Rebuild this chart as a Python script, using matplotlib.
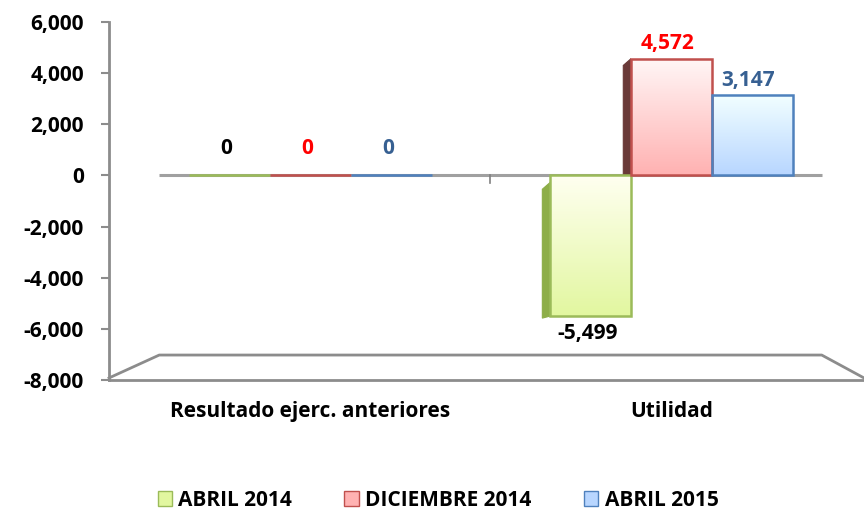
import matplotlib
matplotlib.use("Agg")
import matplotlib.pyplot as plt
import numpy as np
from matplotlib.patches import Rectangle, Polygon, Patch
from matplotlib.colors import LinearSegmentedColormap
from matplotlib.ticker import FuncFormatter

categories = ["Resultado ejerc. anteriores", "Utilidad"]
series_names = ["ABRIL 2014", "DICIEMBRE 2014", "ABRIL 2015"]
abril_2014 = [0, -5499]
diciembre_2014 = [0, 4572]
abril_2015 = [0, 3147]
values = [abril_2014, diciembre_2014, abril_2015]

light = ["#FFFFF0", "#FFF6F6", "#F2FFFF"]
dark = ["#E2F7A0", "#FFB2B2", "#B8D6FF"]
edges = ["#9BBB59", "#C0504D", "#4F81BD"]
sides = ["#8DAE48", "#6A3a38", "#3F6A9F"]
label_colors = ["#000000", "#FF0000", "#376092"]

plt.rcParams['font.family'] = ['Open Sans', 'DejaVu Sans']
FS = 15

fig = plt.figure(figsize=(8.64, 5.12), dpi=100)
ax = fig.add_axes([109/864, 1-380/512, 1-109/864, (380-22)/512])

width = 0.224
x = np.arange(len(categories))
offsets = [-width, 0, width]
grad = np.linspace(0, 1, 100).reshape(-1, 1)

ax.set_xlim(-0.557, 1.532)
ax.set_ylim(-8000, 6000)

# zero line
ax.plot([-0.418, 1.415], [0, 0], color="#A0A0A0", lw=2.2, zorder=1, solid_capstyle='butt')
ax.plot([0.496, 0.496], [0, -300], color="#808080", lw=1.2, zorder=1)

# floor
ax.plot([-0.557, -0.418, 1.415, 1.532], [-7920, -7024, -7024, -7920], color="#8C8C8C", lw=2, zorder=1, clip_on=False)

for si, vals in enumerate(values):
    cmap = LinearSegmentedColormap.from_list("g%d" % si, [light[si], dark[si]])
    for ci, v in enumerate(vals):
        x0 = x[ci] + offsets[si] - width / 2
        x1 = x0 + width
        y0, y1 = min(0, v), max(0, v)
        if v != 0:
            d = 0.022
            dy = 270
            if v > 0:
                pts = [(x0, 0), (x0, v), (x0 - d, v - dy), (x0 - d, 0)]
            else:
                pts = [(x0, -dy), (x0, v), (x0 - d, v - dy * 0.3), (x0 - d, -2 * dy)]
            if si != 2:
                ax.add_patch(Polygon(pts, closed=True, facecolor=sides[si], edgecolor=sides[si], lw=0.8, zorder=2))
            ax.imshow(grad, cmap=cmap, extent=[x0, x1, y0, y1], aspect='auto', origin='upper', zorder=3)
        ax.add_patch(Rectangle((x0, y0), width, y1 - y0, fill=False, edgecolor=edges[si], lw=1.8, zorder=4))
        label = f"{v:,}"
        if v > 0:
            ax.annotate(label, (x0 + width / 2, v), xytext=(-3, 3), textcoords="offset points",
                        ha="center", va="bottom", color=label_colors[si], fontsize=FS, fontweight="bold", zorder=5)
        elif v < 0:
            ax.annotate(label, (x0 + width / 2, v), xytext=(-2, -5), textcoords="offset points",
                        ha="center", va="top", color=label_colors[si], fontsize=FS, fontweight="bold", zorder=5)
        else:
            ax.annotate(label, (x0 + width / 2, v), xytext=(-2, 12), textcoords="offset points",
                        ha="center", va="bottom", color=label_colors[si], fontsize=FS, fontweight="bold", zorder=5)

ax.set_xlim(-0.557, 1.532)
ax.set_ylim(-8000, 6000)
ax.set_yticks(np.arange(-8000, 6001, 2000))
ax.yaxis.set_major_formatter(FuncFormatter(lambda v, p: f"{int(v):,}"))
ax.set_xticks(x)
ax.set_xticklabels(categories)
ax.tick_params(axis='x', length=0, pad=15, labelsize=FS)
ax.tick_params(axis='y', length=6, width=1.5, color="#8C8C8C", labelsize=FS, pad=12)
for lab in ax.get_xticklabels() + ax.get_yticklabels():
    lab.set_fontweight("bold")
for s in ["top", "right"]:
    ax.spines[s].set_visible(False)
for s in ["left", "bottom"]:
    ax.spines[s].set_color("#8C8C8C")
    ax.spines[s].set_linewidth(2)

handles = [Patch(facecolor=dark[i], edgecolor=edges[i], label=series_names[i]) for i in range(3)]
leg = fig.legend(handles=handles, loc="center", bbox_to_anchor=(438/864, 1-500/512), ncol=3, frameon=False,
                 prop={'weight': 'bold', 'size': FS}, handlelength=0.7, handleheight=0.7, handletextpad=0.3, columnspacing=2.5)

fig.savefig("out.png", dpi=100)
